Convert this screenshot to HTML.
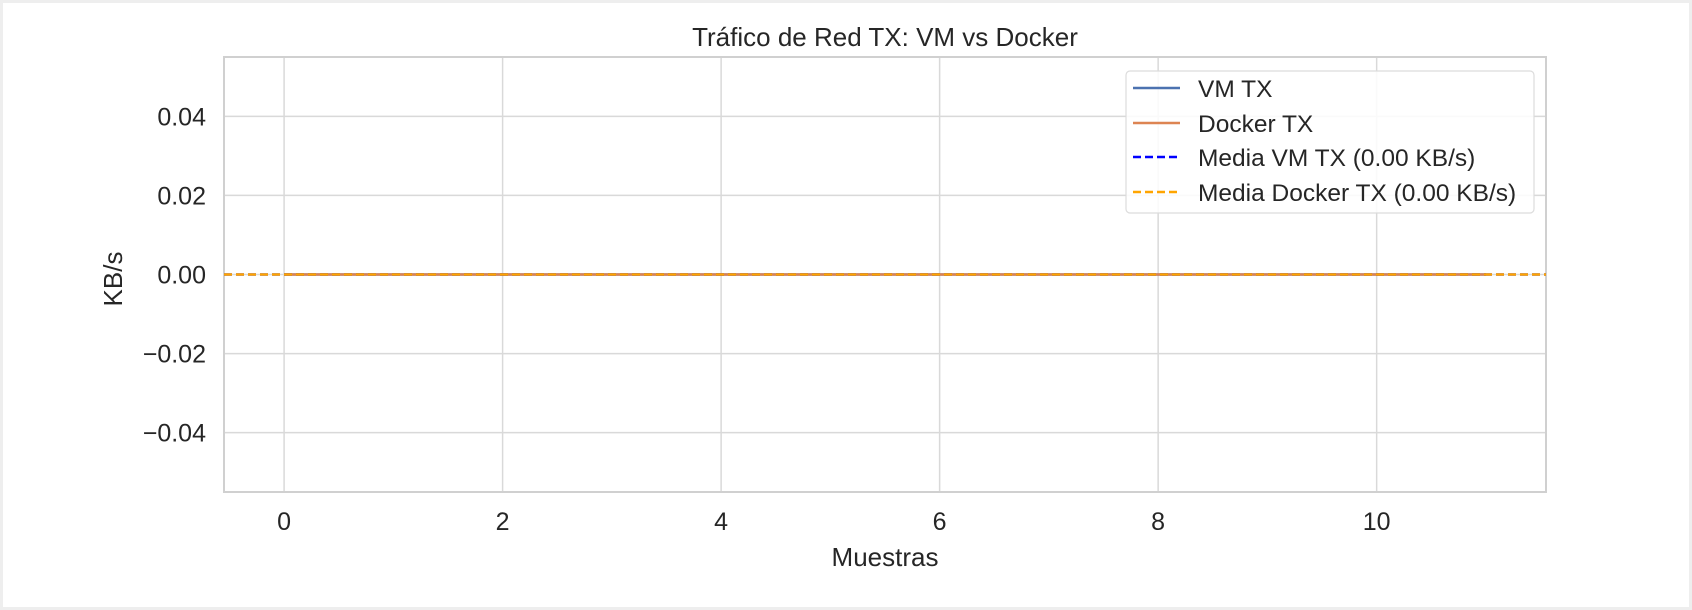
<!DOCTYPE html>
<html><head><meta charset="utf-8"><style>
html,body{margin:0;padding:0;background:#fff;}
svg{display:block;font-family:"Liberation Sans","DejaVu Sans",sans-serif;}
</style></head><body>
<svg id="chart" width="1692" height="610" viewBox="0 0 1692 610">
<rect x="0" y="0" width="1692" height="610" fill="#eeeeee"/>
<rect x="3" y="3" width="1686" height="604" fill="#ffffff"/>
<g id="grid"></g>
<rect x="224" y="57" width="1322" height="435" fill="none" stroke="#d0d0d0" stroke-width="2"/>
<g id="series"></g>
<g id="ticks"></g>
<text x="885" y="46" font-size="26" fill="#262626" text-anchor="middle">Tráfico de Red TX: VM vs Docker</text>
<text x="885" y="566" font-size="26" fill="#262626" text-anchor="middle">Muestras</text>
<text x="122" y="279" font-size="26" fill="#262626" text-anchor="middle" transform="rotate(-90 122 279)">KB/s</text>
<g>
<rect x="1126" y="71" width="408" height="142" rx="4" fill="#ffffff" fill-opacity="0.85" stroke="#dcdcdc" stroke-width="1.2"/>
<g><line x1="1133" y1="88" x2="1180" y2="88" stroke="#4c72b0" stroke-width="2.4"/><text x="1198" y="97" font-size="24.5" fill="#262626">VM TX</text></g>
<g><line x1="1133" y1="123" x2="1180" y2="123" stroke="#dd8452" stroke-width="2.4"/><text x="1198" y="132" font-size="24.5" fill="#262626">Docker TX</text></g>
<g><line x1="1133" y1="157" x2="1180" y2="157" stroke="#0000ff" stroke-width="2.4" stroke-dasharray="8,4"/><text x="1198" y="166" font-size="24.5" fill="#262626">Media VM TX (0.00 KB/s)</text></g>
<g><line x1="1133" y1="192" x2="1180" y2="192" stroke="#ffa500" stroke-width="2.4" stroke-dasharray="8,4"/><text x="1198" y="201" font-size="24.5" fill="#262626">Media Docker TX (0.00 KB/s)</text></g>
</g>
</svg>
<script>
const xTicks = [0, 2, 4, 6, 8, 10];
const yTicks = [0.04, 0.02, 0.00, -0.02, -0.04];
const yTickLabels = ["0.04", "0.02", "0.00", "\u22120.02", "\u22120.04"];
const samples = [0, 1, 2, 3, 4, 5, 6, 7, 8, 9, 10, 11];
const vmTx = [0, 0, 0, 0, 0, 0, 0, 0, 0, 0, 0, 0];
const dockerTx = [0, 0, 0, 0, 0, 0, 0, 0, 0, 0, 0, 0];
const vmMean = [0];
const dockerMean = [0];

const NS = "http://www.w3.org/2000/svg";
const L = 224, R = 1546, T = 57, B = 492;
const xMin = -0.55, xMax = 11.55, yMin = -0.055, yMax = 0.055;
const sx = v => L + (v - xMin) / (xMax - xMin) * (R - L);
const sy = v => B - (v - yMin) / (yMax - yMin) * (B - T);
function mk(tag, attrs, parent) {
  const e = document.createElementNS(NS, tag);
  for (const k in attrs) e.setAttribute(k, attrs[k]);
  parent.appendChild(e);
  return e;
}
const grid = document.getElementById('grid');
const ticks = document.getElementById('ticks');
const series = document.getElementById('series');
xTicks.forEach(t => {
  const g = mk('line', {x1: sx(t), x2: sx(t), y1: T, y2: B, stroke: '#d9d9d9', 'stroke-width': 1.5}, grid);
  
  
  const lb = mk('text', {x: sx(t), y: 530, 'font-size': 25, fill: '#262626', 'text-anchor': 'middle'}, ticks);
  lb.textContent = t;
  
  
});
yTicks.forEach((t, i) => {
  const g = mk('line', {x1: L, x2: R, y1: sy(t), y2: sy(t), stroke: '#d9d9d9', 'stroke-width': 1.5}, grid);
  
  
  const lb = mk('text', {x: 206, y: sy(t) + 9, 'font-size': 25, fill: '#262626', 'text-anchor': 'end'}, ticks);
  lb.textContent = yTickLabels[i];
  
  
});
function path(vals) {
  return vals.map((v, i) => (i ? 'L' : 'M') + sx(samples[i]) + ',' + sy(v)).join(' ');
}
const p1 = mk('path', {d: path(vmTx), fill: 'none', stroke: '#4c72b0', 'stroke-width': 2.4}, series);


const p2 = mk('path', {d: path(dockerTx), fill: 'none', stroke: '#dd8452', 'stroke-width': 2.4}, series);


const m1 = mk('line', {x1: L, x2: R, y1: sy(vmMean[0]), y2: sy(vmMean[0]), stroke: '#0000ff', 'stroke-width': 2.4, 'stroke-dasharray': '8,4'}, series);


const m2 = mk('line', {x1: L, x2: R, y1: sy(dockerMean[0]), y2: sy(dockerMean[0]), stroke: '#ffa500', 'stroke-width': 2.6, 'stroke-dasharray': '8,4'}, series);


</script>
</body></html>
